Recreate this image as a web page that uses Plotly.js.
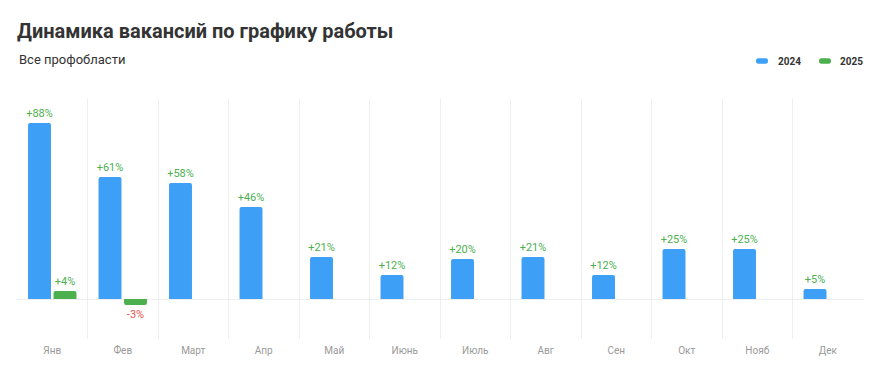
<!DOCTYPE html>
<html>
<head>
<meta charset="utf-8">
<script src="https://cdn.plot.ly/plotly-3.0.1.min.js"></script>
<style>
html,body{margin:0;padding:0;background:#fff;}
#chart{width:882px;height:379px;}
</style>
</head>
<body>
<div id="chart"></div>
<script>
const months = ['Янв','Фев','Март','Апр','Май','Июнь','Июль','Авг','Сен','Окт','Нояб','Дек'];
const series2024 = [88, 61, 58, 46, 21, 12, 20, 21, 12, 25, 25, 5];
const series2025 = [4, -3, null, null, null, null, null, null, null, null, null, null];
const seriesNames = ['2024', '2025'];
const seriesColors = ['#3d9ff5', '#4cb04f'];

const fmt = v => v == null ? '' : (v > 0 ? '+' : '') + v + '%';
const labelColor = v => (v != null && v < 0) ? '#e8534b' : '#4caf50';

const fontFamily = 'Roboto, "Noto Sans", sans-serif';

const traces = [series2024, series2025].map((vals, i) => ({
  type: 'bar', name: seriesNames[i], x: months, y: vals,
  marker: {color: seriesColors[i], cornerradius: 2},
  text: vals.map(fmt), textposition: 'outside', cliponaxis: false, constraintext: 'none',
  textfont: {family: fontFamily, size: 11, color: vals.map(labelColor)},
  hoverinfo: 'skip', showlegend: false
}));

// custom legend (pill markers + labels), placed in paper coordinates
const plotL = 17, plotW = 846, plotT = 99, plotH = 240;
const px2x = p => (p - plotL) / plotW;
const py2y = p => 1 + (plotT - p) / plotH;
const legendPillX = [762, 825];
const legendTextX = [777, 839];
const legendY = 61;
const pill = 'M-3.5,-2.7 L3.5,-2.7 C5.5,-2.7 6,-1.5 6,0 C6,1.5 5.5,2.7 3.5,2.7 L-3.5,2.7 C-5.5,2.7 -6,1.5 -6,0 C-6,-1.5 -5.5,-2.7 -3.5,-2.7 Z';

const shapes = seriesNames.map((n, i) => ({
  type: 'path', xref: 'paper', yref: 'paper',
  xsizemode: 'pixel', ysizemode: 'pixel',
  xanchor: px2x(legendPillX[i]), yanchor: py2y(legendY),
  path: pill, fillcolor: seriesColors[i], line: {width: 0}, layer: 'above'
}));

const annotations = [{
  text: 'Все профобласти', xref: 'paper', yref: 'paper',
  x: 0, y: py2y(60), xanchor: 'left', yanchor: 'middle', showarrow: false,
  font: {family: fontFamily, size: 13, color: '#333'}
}].concat(seriesNames.map((n, i) => ({
  text: '<b>' + n + '</b>', xref: 'paper', yref: 'paper',
  x: px2x(legendTextX[i]), y: py2y(legendY), xanchor: 'left', yanchor: 'middle',
  showarrow: false, xshift: -1,
  font: {family: fontFamily, size: 10, color: '#333'}
})));

const layout = {
  width: 882, height: 379,
  margin: {l: 17, r: 19, t: 99, b: 40},
  paper_bgcolor: '#fff', plot_bgcolor: '#fff',
  font: {family: fontFamily, color: '#333'},
  barmode: 'group', bargap: 0.277, bargroupgap: 0.1,
  title: {
    text: 'Динамика вакансий по графику работы',
    font: {family: fontFamily, size: 20, weight: 'bold', color: '#333'},
    xref: 'container', x: 17/882, xanchor: 'left',
    yref: 'container', y: 1 - 31/379, yanchor: 'middle'
  },
  annotations: annotations,
  shapes: shapes,
  showlegend: false,
  xaxis: {
    type: 'category', tickson: 'boundaries', showgrid: true, gridcolor: '#eeeeee', gridwidth: 1,
    ticks: '', showline: false, zeroline: false,
    tickfont: {family: fontFamily, size: 10, color: '#999'},
    ticklabelstandoff: 4, fixedrange: true
  },
  yaxis: {
    range: [-20, 100], showgrid: false, showticklabels: false, ticks: '',
    zeroline: true, zerolinecolor: '#eeeeee', zerolinewidth: 1, showline: false, fixedrange: true
  }
};

Plotly.newPlot('chart', traces, layout, {displayModeBar: false, staticPlot: true});
</script>
</body>
</html>
